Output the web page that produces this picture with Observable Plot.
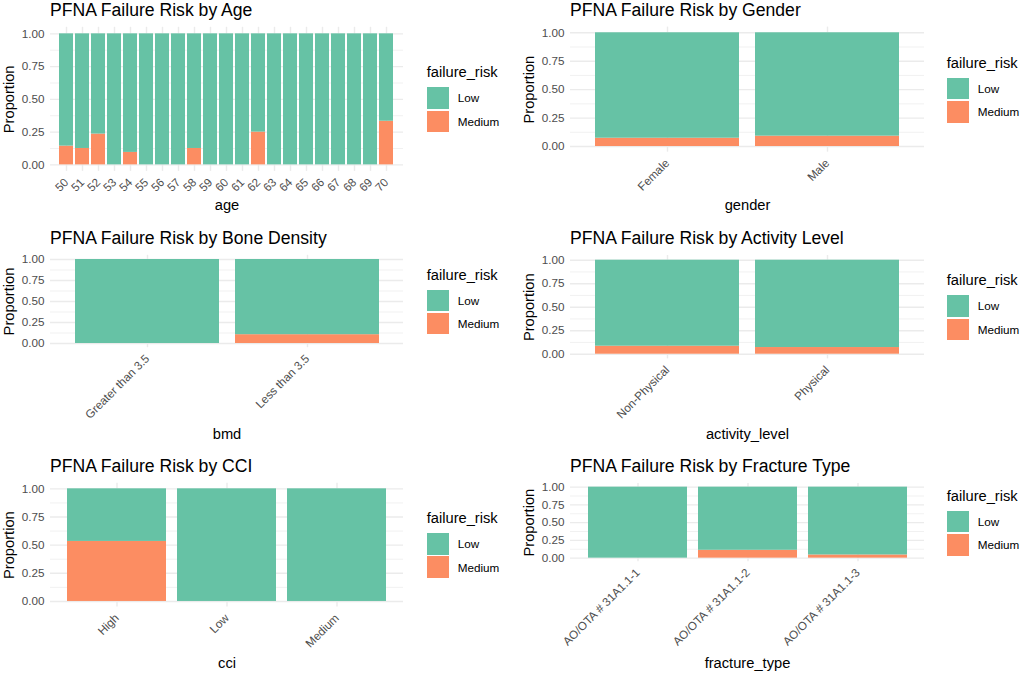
<!DOCTYPE html>
<html><head><meta charset="utf-8">
<script src="https://cdn.jsdelivr.net/npm/d3@7"></script>
<script src="https://cdn.jsdelivr.net/npm/@observablehq/plot@0.6"></script>
<style>
html,body{margin:0;padding:0;background:#fff;}
#root{position:relative;width:1022px;height:673px;overflow:hidden;font-family:"Liberation Sans",Arial,sans-serif;}
.abs{position:absolute;white-space:nowrap;}
.abs svg{overflow:visible;}
</style></head><body><div id="root"></div>
<script>
// ---- data ----
const riskLevels = ["Low", "Medium"];
const riskColors = ["#66C2A5", "#FC8D62"];
const yTicks = [0, 0.25, 0.5, 0.75, 1];
const yMinorTicks = [0.125, 0.375, 0.625, 0.875];

const ageCategories = ["50","51","52","53","54","55","56","57","58","59","60","61","62","63","64","65","66","67","68","69","70"];
const ageLow    = [0.857,0.875,0.765,1,0.905,1,1,1,0.875,1,1,1,0.75,1,1,1,1,1,1,1,0.667];
const ageMedium = [0.143,0.125,0.235,0,0.095,0,0,0,0.125,0,0,0,0.25,0,0,0,0,0,0,0,0.333];

const genderCategories = ["Female", "Male"];
const genderLow    = [0.927, 0.909];
const genderMedium = [0.073, 0.091];

const bmdCategories = ["Greater than 3.5", "Less than 3.5"];
const bmdLow    = [1, 0.895];
const bmdMedium = [0, 0.105];

const activityCategories = ["Non-Physical", "Physical"];
const activityLow    = [0.915, 0.929];
const activityMedium = [0.085, 0.071];

const cciCategories = ["High", "Low", "Medium"];
const cciLow    = [0.467, 1, 1];
const cciMedium = [0.533, 0, 0];

const fractureCategories = ["AO/OTA # 31A1.1-1", "AO/OTA # 31A1.1-2", "AO/OTA # 31A1.1-3"];
const fractureLow    = [1, 0.889, 0.955];
const fractureMedium = [0, 0.111, 0.045];

// ---- layout ----
const panels = [
  {title:"PFNA Failure Risk by Age", xlabel:"age", cats:ageCategories, low:ageLow, med:ageMedium,
   left:0, top:0, width:420, height:224, px0:50, px1:403, pTop:26.8, pBot:170.9, titleBase:16.5, xTitleBase:209.5, legendX:426.7},
  {title:"PFNA Failure Risk by Gender", xlabel:"gender", cats:genderCategories, low:genderLow, med:genderMedium,
   left:520, top:0, width:420, height:224, px0:570, px1:924, pTop:26.6, pBot:151.7, titleBase:16.5, xTitleBase:209.5, legendX:946.7},
  {title:"PFNA Failure Risk by Bone Density", xlabel:"bmd", cats:bmdCategories, low:bmdLow, med:bmdMedium,
   left:0, top:224, width:420, height:224, px0:50, px1:403, pTop:254.8, pBot:347.2, titleBase:245, xTitleBase:438.5, legendX:426.7},
  {title:"PFNA Failure Risk by Activity Level", xlabel:"activity_level", cats:activityCategories, low:activityLow, med:activityMedium,
   left:520, top:224, width:420, height:224, px0:570, px1:924, pTop:255, pBot:358.4, titleBase:244.5, xTitleBase:438.5, legendX:946.7},
  {title:"PFNA Failure Risk by CCI", xlabel:"cci", cats:cciCategories, low:cciLow, med:cciMedium,
   left:0, top:448, width:420, height:225, px0:50, px1:403, pTop:482.7, pBot:606.6, titleBase:472.7, xTitleBase:667.5, legendX:426.7},
  {title:"PFNA Failure Risk by Fracture Type", xlabel:"fracture_type", cats:fractureCategories, low:fractureLow, med:fractureMedium,
   left:520, top:448, width:420, height:225, px0:570, px1:924, pTop:483.1, pBot:561.2, titleBase:472.7, xTitleBase:667.5, legendX:946.7}
];

const root = document.getElementById("root");
const FONT = '"Liberation Sans", Arial, sans-serif';
const TITLE_FS = 17.6, AXTITLE_FS = 14.7, TICK_FS = 11.7;
const GRID = "#ebebeb";

function addText(txt, x, baseline, fs, color) {
  const d = document.createElement("div");
  d.className = "abs";
  d.textContent = txt;
  d.style.left = x + "px";
  d.style.top = (baseline - 0.8465 * fs) + "px";
  d.style.fontSize = fs + "px";
  d.style.lineHeight = fs + "px";
  d.style.color = color;
  root.appendChild(d);
}
function addBox(x, y, w, h, color) {
  const d = document.createElement("div");
  d.className = "abs";
  Object.assign(d.style, {left:x+"px", top:y+"px", width:w+"px", height:h+"px", background:color});
  root.appendChild(d);
}

panels.forEach(p => {
  const rows = [];
  p.cats.forEach((c, i) => rows.push({cat:c, risk:"Medium", value:p.med[i]}));
  p.cats.forEach((c, i) => rows.push({cat:c, risk:"Low", value:p.low[i]}));
  const mL = p.px0 - p.left, mR = p.left + p.width - p.px1;
  const mT = p.pTop - p.top, mB = p.top + p.height - p.pBot;
  const chart = Plot.plot({
    width: p.width, height: p.height,
    marginLeft: mL, marginRight: mR, marginTop: mT, marginBottom: mB,
    style: {fontFamily: FONT, fontSize: TICK_FS + "px", background: "transparent", overflow: "visible"},
    x: {type: "band", domain: p.cats, paddingInner: 0.1, paddingOuter: 0.15},
    y: {domain: [-0.05, 1.05]},
    color: {domain: riskLevels, range: riskColors},
    marks: [
      Plot.ruleY(yMinorTicks, {stroke: GRID, strokeWidth: 0.7}),
      Plot.ruleY(yTicks, {stroke: GRID, strokeWidth: 1.4}),
      Plot.ruleX(p.cats, {stroke: GRID, strokeWidth: 1.4}),
      Plot.barY(rows, {x: "cat", y: "value", fill: "risk"}),
      Plot.axisY({ticks: yTicks, tickFormat: d3.format(".2f"), tickSize: 0, tickPadding: 6, label: null, fontSize: TICK_FS, color: "#4d4d4d"}),
      Plot.axisX({tickRotate: -45, tickSize: 0, tickPadding: 9, label: null, fontSize: TICK_FS, color: "#4d4d4d"}),
      Plot.text([p.xlabel], {text: d => d, frameAnchor: "bottom", textAnchor: "middle", dy: p.xTitleBase - p.pBot, lineAnchor: "bottom", fontSize: AXTITLE_FS, fill: "black"}),
      Plot.text(["Proportion"], {text: d => d, frameAnchor: "left", textAnchor: "middle", rotate: -90, dx: 13.8 - p.px0 + p.left, lineAnchor: "bottom", fontSize: AXTITLE_FS, fill: "black"})
    ]
  });
  const wrap = document.createElement("div");
  wrap.className = "abs";
  wrap.style.left = p.left + "px";
  wrap.style.top = p.top + "px";
  wrap.appendChild(chart);
  root.appendChild(wrap);

  // title
  addText(p.title, p.px0, p.titleBase, TITLE_FS, "#000");
  // legend
  const c = (p.pTop + p.pBot) / 2;
  addText("failure_risk", p.legendX, c - 21, AXTITLE_FS, "#000");
  const sw = 22.6, sh = 21.6;
  const tops = [c - 11.5, c + 11.8];
  riskLevels.forEach((r, i) => {
    addBox(p.legendX, tops[i], sw, sh, riskColors[i]);
    addText(r, p.legendX + 31, tops[i] + sh / 2 + 4.2, TICK_FS, "#000");
  });
});
</script></body></html>
